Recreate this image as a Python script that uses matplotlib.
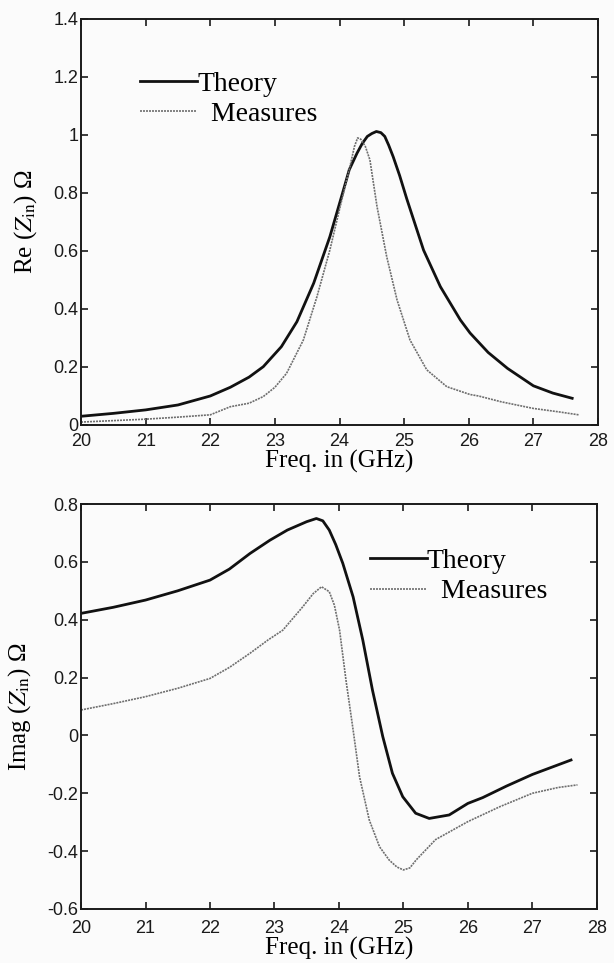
import matplotlib

matplotlib.use("Agg")
import matplotlib.pyplot as plt

# Re(Zin) values
re_theory_f = [20.0, 20.5, 21.0, 21.5, 22.0, 22.31, 22.6, 22.82, 23.1, 23.34, 23.6, 23.85,
               24.06, 24.15, 24.27, 24.35, 24.43, 24.5, 24.57, 24.64, 24.7, 24.76, 24.83,
               24.93, 25.04, 25.3, 25.56, 25.87, 26.02, 26.3, 26.6, 27.0, 27.3, 27.6]
re_theory = [0.030, 0.040, 0.052, 0.069, 0.100, 0.130, 0.165, 0.201, 0.270, 0.356, 0.489,
             0.649, 0.810, 0.880, 0.937, 0.970, 0.995, 1.005, 1.012, 1.008, 0.995, 0.965,
             0.925, 0.860, 0.780, 0.603, 0.477, 0.362, 0.317, 0.250, 0.195, 0.135, 0.110, 0.092]

re_meas_f = [20.0, 20.5, 21.0, 21.5, 22.0, 22.31, 22.6, 22.82, 23.0, 23.18, 23.44, 23.65,
             23.85, 24.01, 24.16, 24.23, 24.28, 24.33, 24.4, 24.47, 24.58, 24.73, 24.89,
             25.09, 25.35, 25.66, 26.02, 26.15, 26.5, 27.0, 27.4, 27.7]
re_meas = [0.010, 0.015, 0.020, 0.027, 0.035, 0.063, 0.075, 0.098, 0.130, 0.178, 0.293,
           0.442, 0.603, 0.753, 0.890, 0.960, 0.990, 0.985, 0.960, 0.914, 0.753, 0.580,
           0.431, 0.293, 0.190, 0.132, 0.105, 0.100, 0.080, 0.057, 0.045, 0.035]

# Imag(Zin) values
im_theory_f = [20.0, 20.5, 21.0, 21.5, 22.0, 22.3, 22.62, 22.93, 23.2, 23.5, 23.65, 23.75,
               23.85, 23.95, 24.06, 24.22, 24.37, 24.52, 24.68, 24.83, 24.99, 25.19, 25.4,
               25.71, 26.0, 26.23, 26.6, 27.0, 27.3, 27.6]
im_theory = [0.422, 0.443, 0.468, 0.500, 0.537, 0.575, 0.629, 0.675, 0.710, 0.739, 0.750,
             0.742, 0.710, 0.660, 0.595, 0.479, 0.330, 0.157, -0.004, -0.131, -0.212,
             -0.269, -0.287, -0.275, -0.235, -0.215, -0.175, -0.135, -0.110, -0.085]

im_meas_f = [20.0, 20.5, 21.0, 21.5, 22.0, 22.3, 22.62, 22.9, 23.13, 23.44, 23.6, 23.73,
             23.85, 23.93, 24.01, 24.11, 24.22, 24.32, 24.47, 24.63, 24.78, 24.9, 25.0,
             25.1, 25.2, 25.5, 26.0, 26.5, 27.0, 27.4, 27.7]
im_meas = [0.088, 0.110, 0.134, 0.163, 0.197, 0.235, 0.284, 0.330, 0.364, 0.445, 0.490,
           0.514, 0.497, 0.450, 0.364, 0.190, 0.019, -0.143, -0.292, -0.385, -0.431, -0.455,
           -0.465, -0.458, -0.430, -0.360, -0.298, -0.246, -0.200, -0.180, -0.171]

x_ticks = [20, 21, 22, 23, 24, 25, 26, 27, 28]
re_ticks = [0, 0.2, 0.4, 0.6, 0.8, 1.0, 1.2, 1.4]
re_ticklabels = ["0", "0.2", "0.4", "0.6", "0.8", "1", "1.2", "1.4"]
im_ticks = [-0.6, -0.4, -0.2, 0, 0.2, 0.4, 0.6, 0.8]
im_ticklabels = ["-0.6", "-0.4", "-0.2", "0", "0.2", "0.4", "0.6", "0.8"]

plt.rcParams["mathtext.fontset"] = "stix"
serif = "Liberation Serif"
sans = "Liberation Sans"
meas_style = dict(color="#6e6e6e", lw=1.2, linestyle=(0, (1.2, 0.6)))
theory_style = dict(color="#111111", lw=2.0)

fig = plt.figure(figsize=(6.14, 9.63), dpi=100, facecolor="#fbfbfb")
ax1 = fig.add_axes([0.132, 0.5587, 0.842, 0.4216])
ax2 = fig.add_axes([0.132, 0.0561, 0.840, 0.4205])


def style_axes(ax, yticks, yticklabels, ylim, xpad):
    ax.set_facecolor("#fbfbfb")
    ax.set_xlim(20, 28)
    ax.set_ylim(*ylim)
    ax.set_xticks(x_ticks)
    ax.set_xticklabels([str(t) for t in x_ticks], family=sans, fontsize=13)
    ax.set_yticks(yticks)
    ax.set_yticklabels(yticklabels, family=sans, fontsize=13)
    ax.tick_params(direction="in", length=5, width=1.2, top=True, right=True,
                   colors="#1a1a1a")
    ax.tick_params(axis="x", pad=xpad)
    ax.tick_params(axis="y", pad=2)
    for sp in ax.spines.values():
        sp.set_linewidth(1.4)
        sp.set_color("#1a1a1a")
    ax.set_xlabel("Freq. in (GHz)", family=serif, fontsize=18, labelpad=0)


leg_kw = dict(loc="upper left", frameon=False, handlelength=2.05, handletextpad=0.0,
              labelspacing=0.18, prop={"family": serif, "size": 20})

# top: real part
ax1.plot(re_theory_f, re_theory, label="Theory", **theory_style)
ax1.plot(re_meas_f, re_meas, label="  Measures", **meas_style)
style_axes(ax1, re_ticks, re_ticklabels, (0, 1.4), 6)
ax1.set_ylabel(r"Re ($Z_{\mathrm{in}}$) Ω", family=serif, fontsize=18, labelpad=10)
ax1.legend(bbox_to_anchor=(0.066, 0.933), **leg_kw)

# bottom: imaginary part
ax2.plot(im_theory_f, im_theory, label="Theory", **theory_style)
ax2.plot(im_meas_f, im_meas, label="  Measures", **meas_style)
style_axes(ax2, im_ticks, im_ticklabels, (-0.6, 0.8), 8)
ax2.set_ylabel(r"Imag ($Z_{\mathrm{in}}$) Ω", family=serif, fontsize=18, labelpad=10)
ax2.legend(bbox_to_anchor=(0.511, 0.952), **leg_kw)

fig.savefig("out.png", dpi=100, facecolor=fig.get_facecolor())
